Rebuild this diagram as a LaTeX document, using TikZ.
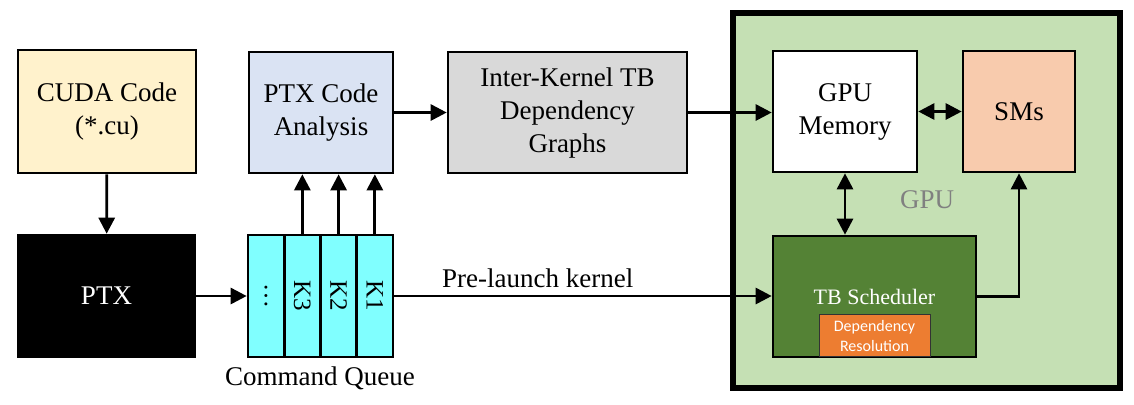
\documentclass[tikz,border=0pt]{standalone}
\usepackage{fontspec}
\setmainfont{Liberation Serif}
\newfontfamily\calibrifont{Carlito}
\usetikzlibrary{arrows.meta,positioning}

\definecolor{cudacol}{HTML}{FFF2CC}
\definecolor{anacol}{HTML}{DAE3F3}
\definecolor{intercol}{HTML}{D9D9D9}
\definecolor{queuecol}{HTML}{80FFFF}
\definecolor{gpucol}{HTML}{C5E0B4}
\definecolor{smscol}{HTML}{F8CBAD}
\definecolor{schedcol}{HTML}{548235}
\definecolor{depcol}{HTML}{ED7D31}
\definecolor{labelgray}{HTML}{808080}

\begin{document}
\begin{tikzpicture}[x=0.5pt,y=-0.5pt]
  \tikzset{
    block/.style={draw, line width=1.3pt, align=center, inner sep=0pt, font=\fontsize{13.5}{16.5}\selectfont},
    cell/.style={draw, line width=1.3pt, fill=queuecol, minimum width=18.125pt, minimum height=61pt, inner sep=0pt, font=\fontsize{12.5}{14}\selectfont},
    myarrow/.style={-{Triangle[length=8pt,width=8pt]}, line width=1.4pt},
    biarrow/.style={{Triangle[length=8pt,width=8pt]}-{Triangle[length=8pt,width=8pt]}, line width=1.4pt},
  }
  \useasboundingbox (0,0) rectangle (1134,404);

  % GPU frame
  \node[draw, line width=3pt, fill=gpucol, minimum width=193.5pt, minimum height=187.5pt] (gpu) at (926.5,200.5) {};
  \node[text=labelgray, font=\fontsize{13.5}{16}\selectfont] (gpulabel) at (927,200) {GPU};

  % host side
  \node[block, fill=cudacol, minimum width=89pt, minimum height=61.5pt] (cuda) at (107,111.5) {CUDA Code\\(*.cu)};
  \node[block, fill=black, text=white, minimum width=88.5pt, minimum height=61pt] (ptx) at (106.5,296) {PTX};
  \node[block, fill=anacol, minimum width=72pt, minimum height=60.5pt] (ana) at (321,112.5) {PTX Code\\Analysis};
  \node[block, fill=intercol, minimum width=119.5pt, minimum height=60.5pt] (inter) at (567.5,112.5) {Inter-Kernel TB\\Dependency\\Graphs};

  % command queue
  \node[cell] (q0) at (266.1,296) {\rotatebox{-90}{\dots}};
  \node[cell, right=-1.3pt of q0] (q3) {\rotatebox{-90}{K3}};
  \node[cell, right=-1.3pt of q3] (q2) {\rotatebox{-90}{K2}};
  \node[cell, right=-1.3pt of q2] (q1) {\rotatebox{-90}{K1}};
  \node[font=\fontsize{13.5}{16}\selectfont] (qlabel) at (320,378) {Command Queue};

  % GPU inside
  \node[block, fill=white, minimum width=72pt, minimum height=60.5pt] (mem) at (845,111.5) {GPU\\Memory};
  \node[block, fill=smscol, minimum width=56pt, minimum height=60.5pt] (sms) at (1019,111.5) {SMs};
  \node[block, fill=schedcol, text=white, minimum width=101.5pt, minimum height=60.5pt, font=\fontsize{11}{12}\selectfont] (sched) at (874.5,296.5) {TB Scheduler};
  \node[draw=black!80, line width=0.5pt, fill=depcol, text=white, align=center, inner sep=0pt,
        minimum width=55.5pt, minimum height=21pt, anchor=south,
        font=\calibrifont\fontsize{8}{10}\selectfont] (dep) at ([yshift=0.65pt]sched.south) {Dependency\\Resolution};

  % connectors
  \draw[myarrow] (cuda) -- (ptx);
  \draw[myarrow] (ptx) -- (q0);
  \foreach \q in {q3,q2,q1}
    \draw[myarrow] (\q.north) -- (\q.north |- ana.south);
  \draw[myarrow] (ana) -- (inter);
  \draw[myarrow] (inter.east) -- (inter.east -| mem.west);
  \draw[myarrow] (q1.east) -- (q1.east -| sched.west)
    node[above, pos=0.38, font=\fontsize{13.5}{16}\selectfont] (prelaunch) {Pre-launch kernel};
  \draw[biarrow] (mem) -- (sms);
  \draw[biarrow] (mem.south) -- (mem.south |- sched.north);
  \draw[myarrow] (sched.east) -| (sms.south);
\end{tikzpicture}
\end{document}
